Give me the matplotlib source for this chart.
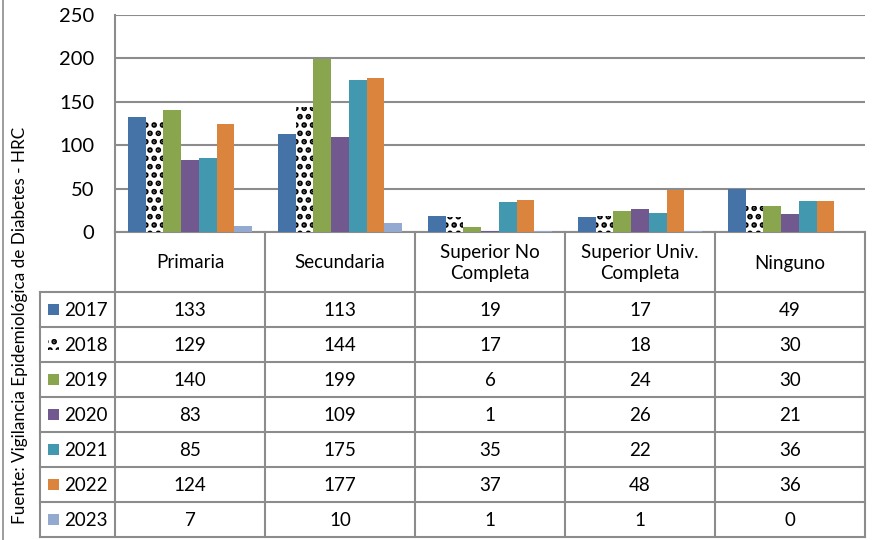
import matplotlib
matplotlib.use("Agg")
import matplotlib.pyplot as plt
from matplotlib.patches import Rectangle
import numpy as np

categories = ["Primaria", "Secundaria", "Superior No\nCompleta", "Superior Univ.\nCompleta", "Ninguno"]
years = ["2017", "2018", "2019", "2020", "2021", "2022", "2023"]
v2017 = [133, 113, 19, 17, 49]
v2018 = [129, 144, 17, 18, 30]
v2019 = [140, 199, 6, 24, 30]
v2020 = [83, 109, 1, 26, 21]
v2021 = [85, 175, 35, 22, 36]
v2022 = [124, 177, 37, 48, 36]
v2023 = [7, 10, 1, 1, 0]
series = [v2017, v2018, v2019, v2020, v2021, v2022, v2023]
colors = ["#4572A7", "white", "#89A54E", "#71588F", "#4198AF", "#DB843D", "#93A9CF"]
hatches = [None, "..", None, None, None, None, None]
yticks = [0, 50, 100, 150, 200, 250]
ylabel = "Fuente: Vigilancia Epidemiológica de Diabetes - HRC"

plt.rcParams['font.family'] = ['Lato', 'DejaVu Sans']
plt.rcParams['hatch.linewidth'] = 2.8
plt.rcParams['hatch.color'] = 'black'

W, H = 872, 540
fig = plt.figure(figsize=(W / 100, H / 100), dpi=100)
GRAY = "#8c8c8c"
LW = 1.5

# plot area in pixels
px0, px1, py0, py1 = 115, 865, 15, 232

ov = fig.add_axes([0, 0, 1, 1])
ov.set_xlim(0, W)
ov.set_ylim(H, 0)
ov.axis("off")

ax = fig.add_axes([px0 / W, 1 - py1 / H, (px1 - px0) / W, (py1 - py0) / H])
n = len(categories)
ax.set_xlim(0, n)
ax.set_ylim(0, 250)
bw = 0.118
x = np.arange(n) + 0.5
for i, (vals, c, h) in enumerate(zip(series, colors, hatches)):
    off = (i - 3) * bw
    ax.bar(x + off, vals, width=bw, color=c, hatch=h, edgecolor=("black" if h else c),
           linewidth=0, zorder=3)
ax.set_yticks(yticks)
ax.set_yticklabels([str(t) for t in yticks], fontsize=14.5)
ax.tick_params(axis="y", length=0, pad=15)
ax.set_xticks([])
ax.grid(axis="y", color=GRAY, linewidth=LW, zorder=0)
ax.set_axisbelow(True)
for s in ["top", "right", "bottom"]:
    ax.spines[s].set_visible(False)
ax.spines["left"].set_color(GRAY)
ax.spines["left"].set_linewidth(LW)
ax.patch.set_alpha(0)

# table
col_edges = [px0 + k * (px1 - px0) / n for k in range(n + 1)]
row_top = 292
row_h = 35
nrows = len(years)
row_edges = [row_top + k * row_h for k in range(nrows + 1)]
ov.plot([px0, px1], [py1, py1], color=GRAY, lw=LW)
for xe in col_edges:
    ov.plot([xe, xe], [py1, row_edges[-1]], color=GRAY, lw=LW)
ov.plot([40, 40], [row_top, row_edges[-1]], color=GRAY, lw=LW)
for ye in row_edges:
    ov.plot([40, px1], [ye, ye], color=GRAY, lw=LW)

FS = 13.5
for j, cat in enumerate(categories):
    cx = (col_edges[j] + col_edges[j + 1]) / 2
    ov.text(cx, (py1 + row_top) / 2 + 1, cat, ha="center", va="center", fontsize=FS,
            linespacing=1.25)

for i, (yr, vals, c, h) in enumerate(zip(years, series, colors, hatches)):
    cy = row_edges[i] + row_h / 2
    ov.add_patch(Rectangle((48, cy - 5.5), 11, 11, facecolor=c, hatch=h,
                           edgecolor=("black" if h else c), lw=0))
    ov.text(64, cy + 1, yr, ha="left", va="center", fontsize=FS)
    for j, v in enumerate(vals):
        cx = (col_edges[j] + col_edges[j + 1]) / 2
        ov.text(cx, cy + 1, str(v), ha="center", va="center", fontsize=FS)

ov.text(20, 325, ylabel, rotation=90, ha="center", va="center", fontsize=12.3)
ov.plot([3, 3], [0, H], color=GRAY, lw=1.2)

fig.savefig("out.png", dpi=100)
